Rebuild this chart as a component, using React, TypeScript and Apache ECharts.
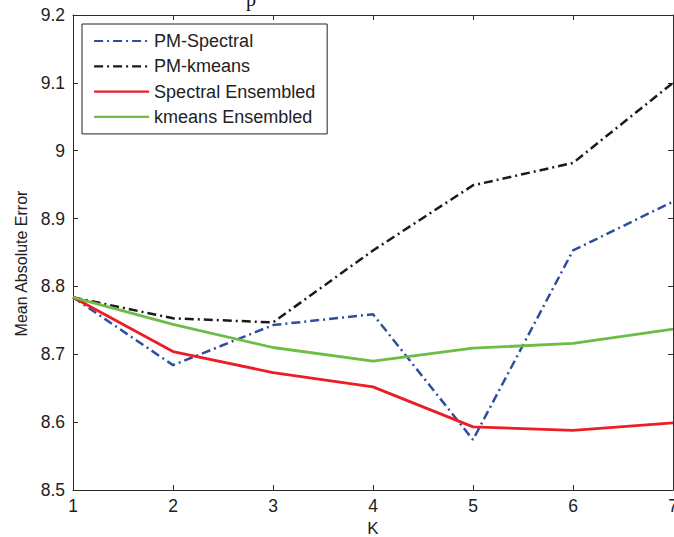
import React, { useEffect, useRef } from "react";
import * as echarts from "echarts";

const K = [1, 2, 3, 4, 5, 6, 7];
const pmSpectral = [8.784, 8.684, 8.743, 8.759, 8.574, 8.853, 8.925];
const pmKmeans = [8.784, 8.753, 8.747, 8.853, 8.949, 8.982, 9.1];
const spectralEnsembled = [8.784, 8.704, 8.673, 8.652, 8.593, 8.588, 8.599];
const kmeansEnsembled = [8.784, 8.744, 8.71, 8.69, 8.709, 8.716, 8.737];
const seriesNames = ["PM-Spectral", "PM-kmeans", "Spectral Ensembled", "kmeans Ensembled"];

const FONT = '"Liberation Sans", Arial, Helvetica, sans-serif';
const TXT = "#222";
const AX = "#2a2a2a";

const pairs = (ys: number[]) => K.map((k, i) => [k, ys[i]]);

export default function App() {
  const ref = useRef<HTMLDivElement>(null);
  useEffect(() => {
    if (!ref.current) return;
    const chart = echarts.init(ref.current, undefined, { renderer: "svg" });
    const axisLine = { show: true, lineStyle: { color: AX, width: 1 } };
    const tick = { show: true, inside: true, length: 5, lineStyle: { color: AX, width: 1 } };
    const mk = (name: string, ys: number[], color: string, dashed: boolean) => ({
      type: "line",
      name,
      data: pairs(ys),
      symbol: "none",
      showSymbol: false,
      lineStyle: {
        color,
        width: dashed ? 2.5 : 2.8,
        type: dashed ? [9, 4, 2, 4] : "solid",
      },
      itemStyle: { color },
      z: 3,
    });
    chart.setOption({
      animation: false,
      backgroundColor: "#fff",
      textStyle: { fontFamily: FONT },
      grid: {
        left: 73,
        right: 1,
        top: 15,
        bottom: 47,
        containLabel: false,
        outerBoundsMode: "none",
      },
      legend: {
        show: true,
        orient: "vertical",
        left: 82,
        top: 24,
        padding: [8, 12, 8, 11],
        itemWidth: 55,
        itemHeight: 18,
        itemGap: 7.3,
        backgroundColor: "#fff",
        borderColor: "#222",
        borderWidth: 1,
        borderRadius: 0,
        data: seriesNames,
        itemStyle: { opacity: 0 },
        lineStyle: { width: 2.2 },
        textStyle: { fontFamily: FONT, fontSize: 18, color: TXT },
        selectedMode: false,
      },
      xAxis: [
        {
          type: "value",
          min: 1,
          max: 7,
          interval: 1,
          position: "bottom",
          name: "K",
          nameLocation: "middle",
          nameGap: 24,
          nameTextStyle: { fontFamily: FONT, fontSize: 17, color: TXT },
          axisLine,
          axisTick: tick,
          axisLabel: { fontFamily: FONT, fontSize: 17.5, color: TXT, margin: 7 },
          splitLine: { show: false },
        },
        {
          type: "value",
          min: 1,
          max: 7,
          interval: 1,
          position: "top",
          axisLine,
          axisTick: tick,
          axisLabel: { show: false },
          splitLine: { show: false },
        },
      ],
      yAxis: [
        {
          type: "value",
          min: 8.5,
          max: 9.2,
          interval: 0.1,
          position: "left",
          name: "Mean Absolute Error",
          nameLocation: "middle",
          nameRotate: 90,
          nameGap: 43,
          nameTextStyle: { fontFamily: FONT, fontSize: 16, color: TXT, padding: [0, 22, 0, 0] },
          axisLine,
          axisTick: tick,
          axisLabel: {
            fontFamily: FONT,
            fontSize: 17.5,
            color: TXT,
            margin: 8,
            formatter: (v: number) => String(Math.round(v * 10) / 10),
          },
          splitLine: { show: false },
        },
        {
          type: "value",
          min: 8.5,
          max: 9.2,
          interval: 0.1,
          position: "right",
          axisLine,
          axisTick: tick,
          axisLabel: { show: false },
          splitLine: { show: false },
        },
      ],
      graphic: [
        {
          type: "text",
          left: 246,
          top: -11,
          style: { text: "p", font: '20px "Liberation Serif", serif', fill: "#111" },
          silent: true,
        },
      ],
      series: [
        mk(seriesNames[0], pmSpectral, "#2f4ea0", true),
        mk(seriesNames[1], pmKmeans, "#1a1a1a", true),
        mk(seriesNames[2], spectralEnsembled, "#ee1c25", false),
        mk(seriesNames[3], kmeansEnsembled, "#6cbd45", false),
      ],
    });
    return () => chart.dispose();
  }, []);
  return (
    <div
      ref={ref}
      style={{ position: "fixed", left: 0, top: 0, width: 674, height: 537, background: "#fff" }}
    />
  );
}
